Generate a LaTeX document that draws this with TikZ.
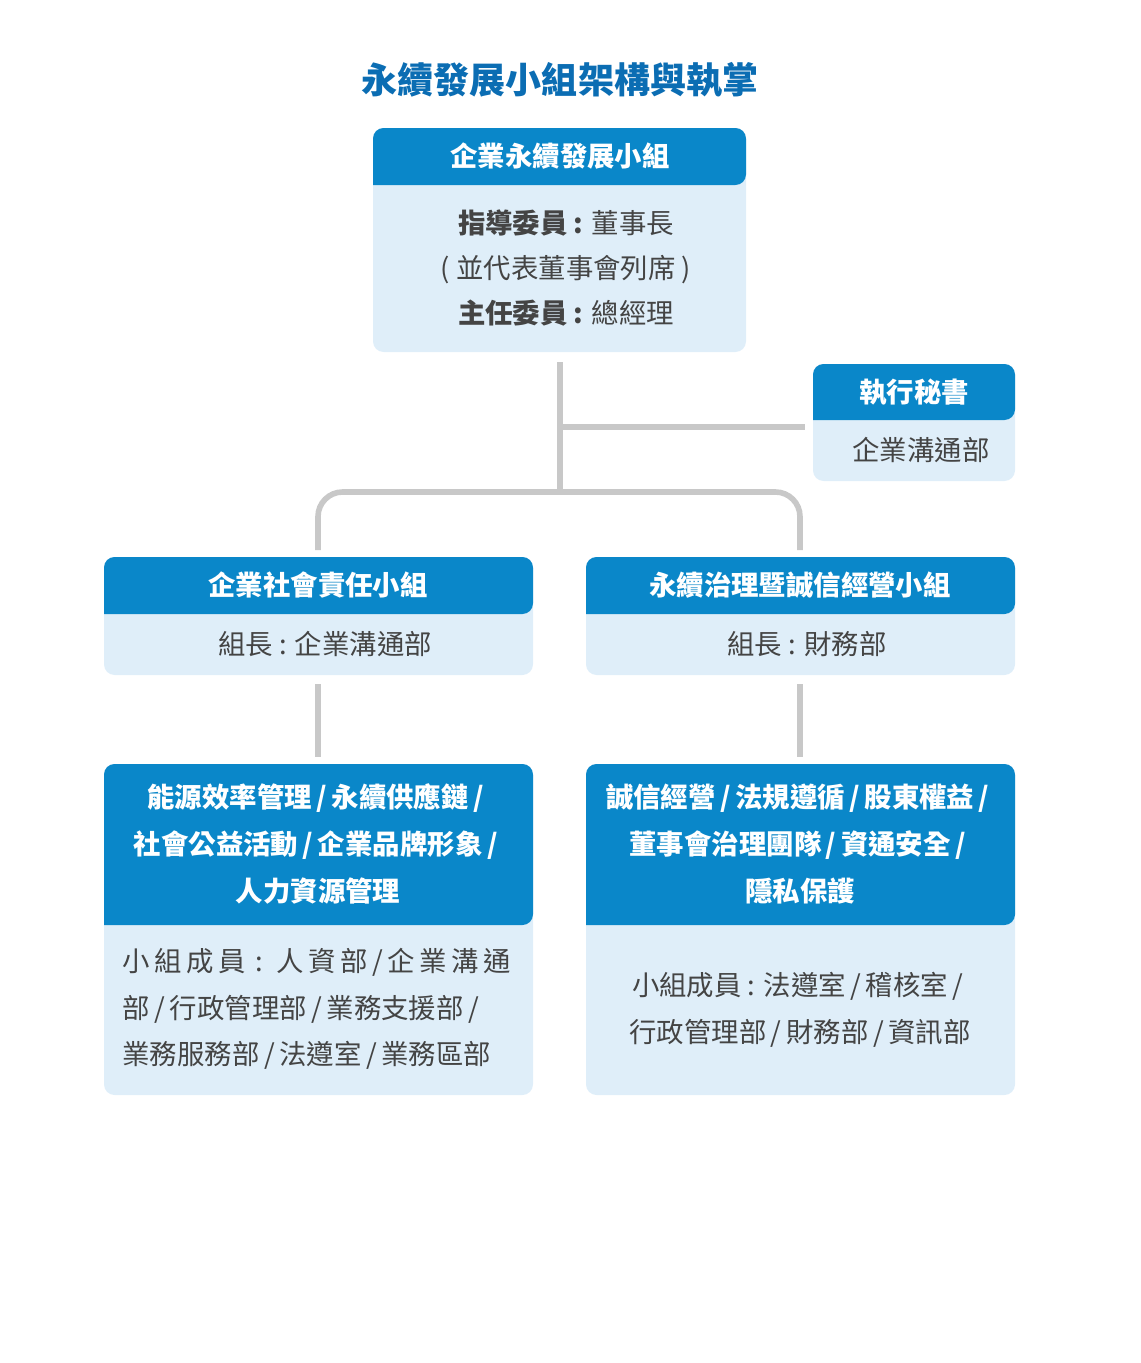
\documentclass[tikz,border=0pt]{standalone}
\usepackage{fontspec}
\setmainfont{Noto Sans CJK TC}
\usetikzlibrary{positioning}
\definecolor{hdblue}{HTML}{0A87C9}
\definecolor{bdblue}{HTML}{DFEEF9}
\definecolor{ttblue}{HTML}{0B6DB3}
\definecolor{txgray}{HTML}{444444}
\definecolor{lngray}{HTML}{C8C8C8}

\tikzset{
  headtext/.style={text=white,font=\fontsize{15.6}{26.5}\selectfont\bfseries,align=center},
  bodytext/.style={text=txgray,font=\fontsize{15.6}{26.5}\selectfont,align=center},
  link/.style={draw=lngray,line width=3.2pt}
}
% box: x1, y1, y-split, x2, y2
\newcommand{\orgbox}[5]{%
  \fill[bdblue,rounded corners=6] (#1,#2) rectangle (#4,#5);
  \fill[hdblue,rounded corners=6] (#1,#3) -- (#1,#2) -- (#4,#2) -- (#4,#3) [sharp corners] -- cycle;
}
\newcommand{\sep}{\,/\,}

\begin{document}
\begin{tikzpicture}[x=0.02cm,y=-0.02cm]
\useasboundingbox (0,0) rectangle (1140,1363);

\node[text=ttblue,font=\fontsize{20.5}{24}\selectfont\bfseries] (title) at (560,80) {永續發展小組架構與執掌};

% top group
\orgbox{373}{128}{185}{746}{352}
\node[headtext] (top) at (560,156) {企業永續發展小組};
\node[bodytext,font=\fontsize{15.6}{25.6}\selectfont] (topbody) at (566,268)
  {\textbf{指導委員 :} 董事長\\( 並代表董事會列席 )\\\textbf{主任委員 :} 總經理};

% secretary
\orgbox{813}{364}{420}{1015}{481}
\node[headtext] (sec) at (914,392) {執行秘書};
\node[bodytext] (secbody) at (921,450) {企業溝通部};

% second row
\orgbox{104}{557}{614}{533}{675}
\node[headtext] (csr) at (318,585) {企業社會責任小組};
\node[bodytext] (csrbody) at (325,644) {組長 : 企業溝通部};
\orgbox{586}{557}{614}{1015}{675}
\node[headtext] (gov) at (800,585) {永續治理暨誠信經營小組};
\node[bodytext] (govbody) at (807,644) {組長 : 財務部};

% third row
\orgbox{104}{764}{925}{533}{1095}
\node[headtext] (csrtask) at (318,844)
  {能源效率管理\sep 永續供應鏈\sep\\社會公益活動\sep 企業品牌形象\sep\\人力資源管理};
\node[bodytext,align=left,text width=7.9cm] (csrmem) at (320,1009)
  {小\,組\,成\,員 : 人\,資\,部\sep 企\,業\,溝\,通\\部\sep 行政管理部\sep 業務支援部\sep\\業務服務部\sep 法遵室\sep 業務區部};
\orgbox{586}{764}{925}{1015}{1095}
\node[headtext] (govtask) at (800,844)
  {誠信經營\sep 法規遵循\sep 股東權益\sep\\董事會治理團隊\sep 資通安全\sep\\隱私保護};
\node[bodytext] (govmem) at (800,1010)
  {小組成員 : 法遵室\sep 稽核室\sep\\行政管理部\sep 財務部\sep 資訊部};

% connectors
\coordinate (hub) at (560,492);
\coordinate (tap) at (560,427);
\coordinate (secin) at (805,427);
\coordinate (csrin) at (318,550);
\coordinate (govin) at (800,550);
\draw[link] (560,362) -- (hub);
\draw[link] (tap) -- (secin);
\draw[link,rounded corners=14] (csrin) |- (hub) -| (govin);
\draw[link] (318,684) -- (318,757);
\draw[link] (800,684) -- (800,757);
\end{tikzpicture}
\end{document}
